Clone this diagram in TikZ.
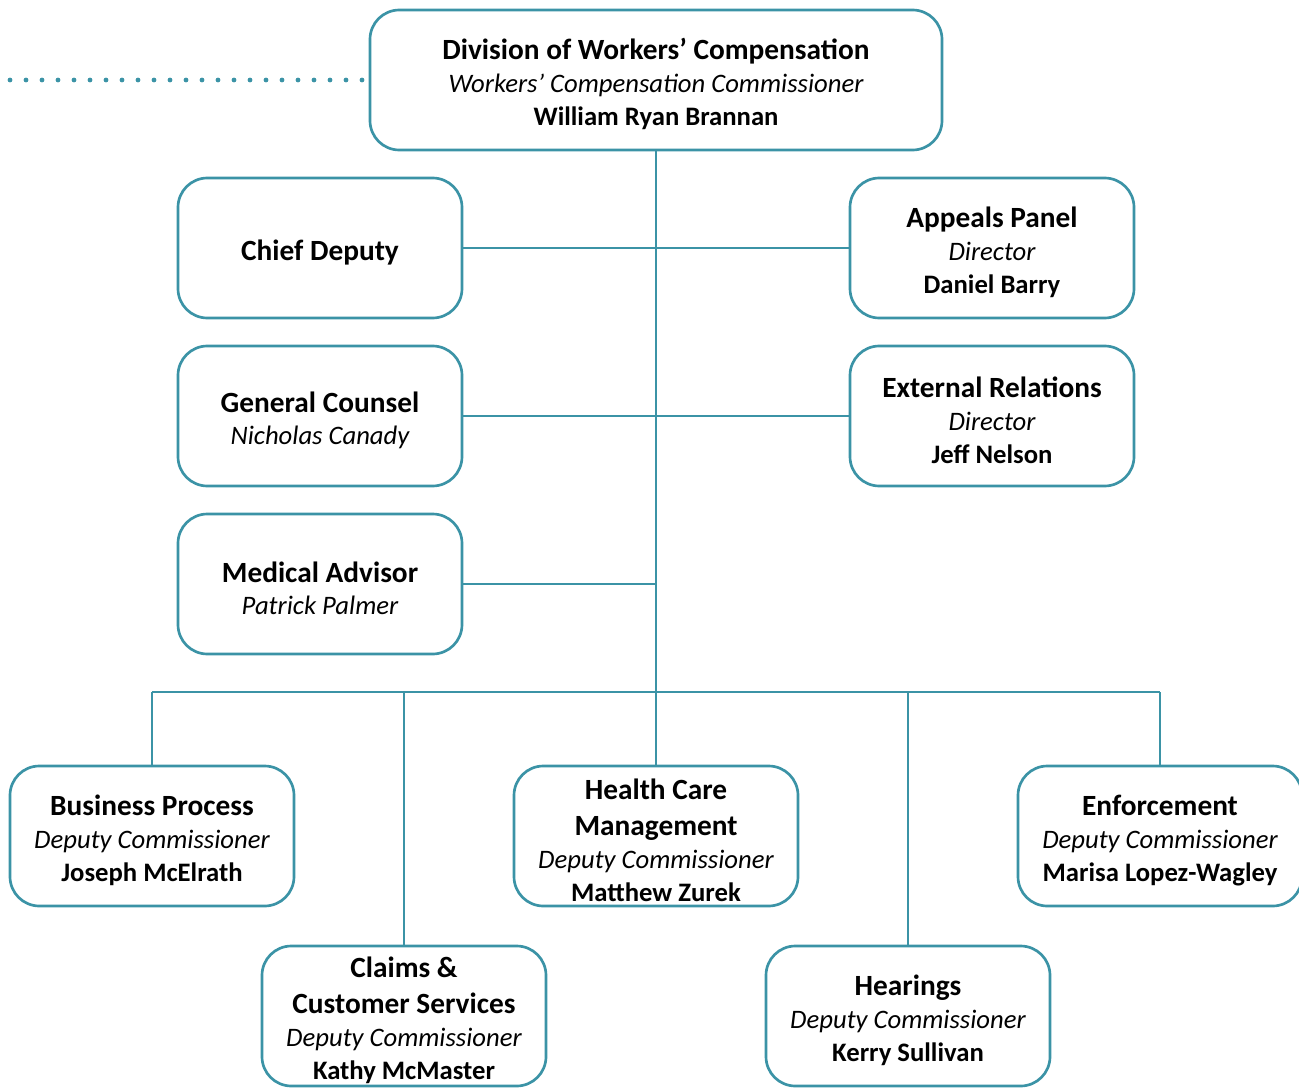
\documentclass[tikz,border=0pt]{standalone}
\usepackage{fontspec}
\setmainfont{Carlito}
\definecolor{teal}{HTML}{3B93A6}
\newcommand\hd[1]{\rule{0pt}{22pt}{\fontsize{22}{24.5}\selectfont\bfseries #1}}
\newcommand\hdb[1]{{\fontsize{22}{24.5}\selectfont\bfseries #1}}
\newcommand\nm[1]{{\fontsize{20}{24.5}\selectfont\bfseries #1}}
\newcommand\sub[1]{{\fontsize{20}{24.5}\selectfont\itshape #1}}
\begin{document}
\begin{tikzpicture}[x=0.75pt,y=-0.75pt,
  box/.style={draw=teal, line width=2pt, rounded corners=22pt, fill=white,
    minimum width=213pt, minimum height=105pt, inner sep=0pt, align=center,
    font=\fontsize{20}{24.5}\selectfont},
  conn/.style={draw=teal, line width=2.1pt},
  dots/.style={draw=teal, line width=3.6pt, line cap=round, dash pattern=on 0pt off 12pt}]
\useasboundingbox (0,0) rectangle (1299,1088);
\node[box, minimum width=429pt] (top) at (656,80) {\hd{Division of Workers’ Compensation}\\\sub{Workers’ Compensation Commissioner}\\\nm{William Ryan Brannan}};
\node[box] (chief) at (320,248) {\hd{Chief Deputy}};
\node[box] (appeals) at (992,248) {\hd{Appeals Panel}\\\sub{Director}\\\nm{Daniel Barry}};
\node[box] (gc) at (320,416) {\hd{General Counsel}\\\sub{Nicholas Canady}};
\node[box] (ext) at (992,416) {\hd{External Relations}\\\sub{Director}\\\nm{Jeff Nelson}};
\node[box] (med) at (320,584) {\hd{Medical Advisor}\\\sub{Patrick Palmer}};
\node[box] (bp) at (152,836) {\hd{Business Process}\\\sub{Deputy Commissioner}\\\nm{Joseph McElrath}};
\node[box] (hc) at (656,836) {\hd{Health Care}\\[2.5pt]\hdb{Management}\\\sub{Deputy Commissioner}\\\nm{Matthew Zurek}};
\node[box] (enf) at (1160,836) {\hd{Enforcement}\\\sub{Deputy Commissioner}\\\nm{Marisa Lopez-Wagley}};
\node[box] (claims) at (404,1016) {\hd{Claims \&}\\[2.5pt]\hdb{Customer Services}\\\sub{Deputy Commissioner}\\\nm{Kathy McMaster}};
\node[box] (hear) at (908,1016) {\hd{Hearings}\\\sub{Deputy Commissioner}\\\nm{Kerry Sullivan}};
\coordinate (dotL) at (10,80);
\coordinate (busL) at (152,692);
\coordinate (busR) at (1160,692);
\draw[dots] (dotL) -- (top.west);
\draw[conn] (top.south) -- (hc.north);
\draw[conn] (chief.east) -- (appeals.west);
\draw[conn] (gc.east) -- (ext.west);
\draw[conn] (med.east) -- (med.east -| top.south);
\draw[conn] (busL) -- (busR);
\draw[conn] (bp.north) -- (bp.north |- busL);
\draw[conn] (enf.north) -- (enf.north |- busR);
\draw[conn] (claims.north) -- (claims.north |- busL);
\draw[conn] (hear.north) -- (hear.north |- busL);
\end{tikzpicture}
\end{document}
